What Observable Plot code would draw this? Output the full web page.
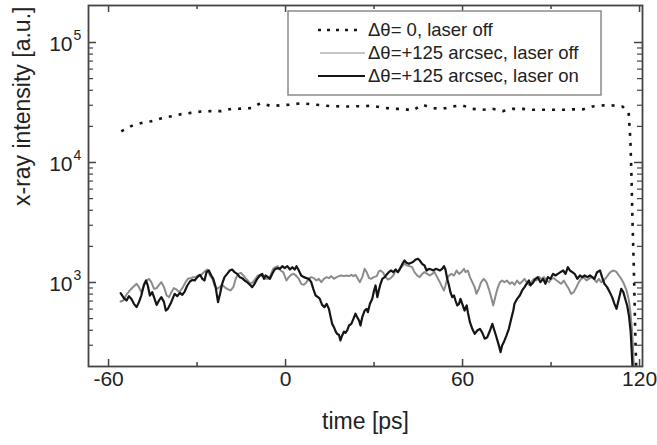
<!DOCTYPE html>
<html><head><meta charset="utf-8">
<script src="https://cdn.jsdelivr.net/npm/d3@7"></script>
<script src="https://cdn.jsdelivr.net/npm/@observablehq/plot@0.6"></script>
<style>body{margin:0;background:#fff} #chart{position:relative;width:657px;height:445px}</style>
</head><body><div id="chart"></div>
<script>
// time [ps], x-ray intensity [a.u.]
const dotted = [[-55.7,18200],[-52.3,20100],[-48.9,21300],[-45.5,22100],[-42.0,23400],[-38.6,24300],[-35.3,25300],[-32.2,25900],[-28.6,26600],[-25.4,26800],[-21.8,26800],[-18.3,28000],[-15.0,28100],[-11.6,28400],[-8.5,31200],[-4.8,29500],[-1.5,30000],[1.9,30400],[5.3,31200],[8.7,30600],[12.1,30000],[15.5,29500],[18.9,29300],[22.3,29300],[25.7,29500],[29.1,29700],[32.2,28900],[36.3,28000],[39.7,28000],[43.1,27100],[46.4,30300],[49.8,28400],[53.2,28000],[56.6,29300],[60.0,29900],[63.4,28000],[66.8,27500],[70.2,28000],[73.6,26800],[76.9,28000],[80.3,28000],[83.7,27500],[87.1,27500],[90.5,27500],[93.9,27500],[97.3,27700],[100.7,27700],[104.1,29300],[107.5,29900],[110.8,29900],[114.2,29300],[116.3,26100],[116.9,15300],[117.3,7100],[117.6,3300],[118.0,1500],[118.3,710],[118.6,330],[119.0,150]];

const grayOff = [[-55.9,694],[-55.0,708],[-54.1,779],[-53.1,841],[-52.3,886],[-51.4,930],[-50.5,975],[-49.7,915],[-48.9,831],[-48.0,944],[-47.1,1039],[-46.3,1073],[-45.5,1006],[-44.6,886],[-43.7,897],[-42.9,956],[-42.1,1006],[-41.2,915],[-40.3,779],[-39.5,755],[-38.7,831],[-37.9,897],[-37.0,875],[-36.0,831],[-35.0,897],[-33.9,1006],[-33.1,1073],[-32.2,1087],[-31.3,1108],[-30.5,1108],[-29.7,1144],[-28.8,1144],[-27.7,1219],[-26.6,1283],[-25.6,1144],[-24.8,1073],[-24.1,944],[-23.2,886],[-22.3,915],[-21.5,956],[-20.7,915],[-19.8,886],[-18.6,858],[-17.7,915],[-16.9,1073],[-16.1,1181],[-15.2,1204],[-14.3,1144],[-13.6,1087],[-12.8,1039],[-11.9,975],[-11.0,1006],[-10.2,1073],[-9.4,1144],[-8.5,1159],[-7.6,1108],[-6.8,1073],[-6.0,1073],[-5.1,1144],[-4.2,1300],[-3.4,1342],[-2.6,1368],[-1.7,1259],[-0.8,1219],
[0.3,1039],[1.1,1108],[1.9,1159],[2.8,1181],[3.7,1130],[4.5,1073],[5.3,975],[6.2,956],[7.1,1006],[7.9,1073],[8.7,1108],[9.6,1087],[10.5,1039],[11.3,1073],[12.1,1006],[13.0,1073],[13.9,1108],[14.7,1087],[15.5,1130],[16.4,1073],[17.3,1108],[18.1,1130],[18.9,1144],[19.8,1130],[20.7,1144],[21.5,1130],[22.3,1159],[23.0,1130],[23.7,1159],[24.5,1073],[25.2,1006],[26.0,1108],[26.8,1300],[27.5,1219],[28.3,1087],[29.0,1073],[29.9,1108],[30.9,1130],[31.6,1235],[32.2,1259],[33.1,1204],[33.9,1108],[34.7,1059],[35.6,1087],[36.5,1144],[37.3,1259],[38.1,1235],[38.8,1317],[39.6,1368],[40.3,1430],[41.2,1386],[42.1,1368],[42.9,1342],[43.7,1219],[44.6,1144],[45.5,1108],[46.3,1181],[47.1,1219],[48.0,1181],[48.9,1144],[49.7,1181],[50.5,1219],[51.4,1108],[52.3,1006],[53.1,915],[53.7,858],[54.2,944],[54.8,1073],[55.4,1144],[56.2,1181],[57.1,1144],[58.0,1259],[58.8,1181],[59.6,1219],[60.5,1300],
[61.0,1219],[61.8,1259],[62.5,1108],[63.3,1006],[64.1,915],[64.7,805],[65.5,886],[66.3,1006],[67.2,1073],[68.1,1006],[68.9,886],[69.7,755],[70.4,643],[71.2,779],[72.0,915],[72.7,1006],[73.4,1039],[74.2,1006],[75.1,1039],[76.0,975],[76.8,1006],[77.6,956],[78.5,1039],[79.4,975],[80.2,1019],[81.0,1073],[81.7,1006],[82.5,956],[83.3,1006],[84.2,1073],[85.1,1039],[85.9,1108],[86.7,1073],[87.6,1108],[88.5,1039],[89.3,1006],[90.1,1073],[91.0,1087],[91.9,1039],[92.7,1006],[93.4,975],[94.3,1039],[95.3,944],[96.0,886],[96.8,805],[97.7,831],[98.6,915],[99.4,1006],[100.2,1073],[101.1,1108],[102.0,1039],[102.8,1073],[103.6,1108],[104.5,1073],[105.4,1006],[106.2,1073],[107.0,1006],[107.9,1039],[108.8,1108],[109.6,1181],[110.4,1235],[111.3,1259],[112.2,1219],[113.0,1144],[113.8,1073],[114.7,975],[115.6,858],[116.4,708],[116.9,566],[117.5,385],[117.9,250],[118.3,150]];

const blackOn = [[-55.9,814],[-54.8,740],[-53.9,708],[-53.1,769],[-52.3,731],[-51.4,664],[-50.5,623],[-49.7,686],[-48.9,779],[-48.0,956],[-47.3,1039],[-46.7,944],[-46.0,779],[-45.2,831],[-44.6,755],[-43.7,651],[-42.9,708],[-42.1,755],[-41.2,686],[-40.6,584],[-39.9,603],[-39.0,664],[-38.3,731],[-37.6,805],[-36.7,769],[-35.8,820],[-35.0,789],[-34.2,841],[-33.3,944],[-32.4,1019],[-31.6,1052],[-30.8,1039],[-29.9,1108],[-29.0,1159],[-28.2,1073],[-27.5,1039],[-26.8,1219],[-26.0,1259],[-25.2,1144],[-24.5,1073],[-23.7,915],[-22.9,686],[-22.2,805],[-21.5,975],[-20.7,1108],[-19.8,1181],[-18.9,1259],[-18.1,1283],[-17.3,1219],[-16.4,1181],[-15.5,1108],[-14.7,1087],[-13.9,1039],[-13.0,1006],[-12.1,956],[-11.3,915],[-10.5,975],[-9.6,1073],[-8.7,1144],[-7.9,1181],[-7.3,1073],[-6.8,1144],[-6.0,1108],[-5.3,1073],[-4.5,1181],[-3.7,1283],[-2.8,1317],[-1.9,1300],[-1.1,1368],[-0.3,1317],[0.6,1368],
[1.5,1283],[2.3,1342],[3.1,1283],[3.7,1368],[4.5,1259],[5.3,1144],[6.2,1108],[7.1,1087],[7.9,1073],[8.7,1006],[9.4,886],[10.2,779],[11.0,755],[11.6,731],[12.4,651],[13.2,623],[13.9,664],[14.7,603],[15.3,514],[15.8,452],[16.4,424],[17.0,390],[17.5,373],[18.1,367],[18.6,329],[19.2,362],[19.8,390],[20.3,380],[20.9,399],[21.5,438],[22.3,452],[23.0,498],[23.7,549],[24.3,514],[24.9,483],[25.4,438],[26.0,514],[26.8,584],[27.5,603],[27.9,566],[28.6,664],[29.4,731],[30.0,858],[30.5,944],[31.1,755],[31.6,858],[32.2,975],[32.8,1073],[33.6,1108],[34.2,1159],[35.0,1219],[35.8,1259],[36.5,1219],[37.3,1283],[38.1,1219],[38.8,1300],[39.6,1430],[40.3,1525],[41.0,1458],[41.8,1430],[42.6,1458],[43.3,1490],[44.1,1555],[44.9,1575],[45.5,1525],[46.3,1430],[47.1,1386],[47.8,1259],[48.6,1300],[49.4,1283],[50.1,1259],[50.9,1300],[51.6,1283],[52.3,1259],[53.1,1300],[53.7,1368],[54.2,1283],[54.8,1073],[55.4,944],[55.9,831],[56.5,755],[57.1,779],[57.6,708],[58.2,643],[58.8,664],[59.3,731],[59.9,664],
[60.7,584],[61.4,643],[61.8,566],[62.5,467],[63.3,411],[64.1,373],[65.0,398],[65.9,411],[66.7,381],[67.5,340],[68.4,350],[69.3,398],[70.1,452],[70.8,398],[71.5,350],[72.3,299],[72.9,263],[73.4,299],[74.0,319],[74.9,362],[75.7,411],[76.5,498],[77.2,584],[77.6,664],[78.5,731],[79.4,779],[80.2,858],[81.0,915],[81.7,975],[82.5,1039],[83.0,944],[84.0,1006],[84.7,1073],[85.5,1108],[86.4,1006],[87.3,1073],[88.1,975],[88.9,1108],[89.8,1073],[90.7,1181],[91.5,1144],[92.3,1181],[93.2,1219],[94.1,1259],[94.9,1181],[95.7,1342],[96.4,1259],[97.2,1219],[98.0,1181],[98.9,1073],[99.8,1144],[100.6,1108],[101.4,1144],[102.3,1108],[103.2,1144],[104.0,1108],[104.7,1073],[105.6,1219],[106.6,1259],[107.3,1108],[108.1,975],[109.0,915],[109.9,831],[110.7,755],[111.5,664],[112.2,603],[113.0,731],[113.8,886],[114.5,831],[115.3,708],[115.8,643],[116.4,531],[117.0,385],[117.3,280],[117.6,200],[117.8,120]];

const xMajor = [-60, 0, 60, 120];
const xLabels = ["-60", "0", "60", "120"];
const xMinor = [-30, 30, 90];
const yMajor = [1e3, 1e4, 1e5];
const yExp = ["3", "4", "5"];
const yMinor = [300,400,500,600,700,800,900,2000,3000,4000,5000,6000,7000,8000,9000,20000,30000,40000,50000,60000,70000,80000,90000];
const legendLabels = ["\u0394\u03b8= 0, laser off", "\u0394\u03b8=+125 arcsec, laser off", "\u0394\u03b8=+125 arcsec, laser on"];

const W = 657, H = 445, mL = 88, mR = 15, mT = 5, mB = 79;
const plotW = W - mL - mR, plotH = H - mT - mB;
const font = "'Liberation Sans', Arial, Helvetica, sans-serif";
const axisColor = "#444";

const chart = Plot.plot({
  width: W, height: H,
  marginLeft: mL, marginRight: mR, marginTop: mT, marginBottom: mB,
  style: {fontFamily: font, background: "white", color: "#222", overflow: "visible"},
  x: {domain: [-66.8, 121], axis: null},
  y: {type: "log", domain: [199.5, 203400], axis: null},
  marks: [
    Plot.line(dotted, {x: d => d[0], y: d => d[1], stroke: "#151515", strokeWidth: 2.6, strokeDasharray: "3,7", strokeLinecap: "butt", clip: true}),
    Plot.line(grayOff, {x: d => d[0], y: d => d[1], stroke: "#8c8c8c", strokeWidth: 2, clip: true}),
    Plot.line(blackOn, {x: d => d[0], y: d => d[1], stroke: "#151515", strokeWidth: 2.2, clip: true}),
    Plot.tickX(xMajor, {x: d => d, insetTop: plotH - 7, stroke: axisColor, strokeWidth: 1.5}),
    Plot.tickX(xMajor, {x: d => d, insetBottom: plotH - 7, stroke: axisColor, strokeWidth: 1.5}),
    Plot.tickX(xMinor, {x: d => d, insetTop: plotH - 4, stroke: axisColor, strokeWidth: 1.5}),
    Plot.tickX(xMinor, {x: d => d, insetBottom: plotH - 4, stroke: axisColor, strokeWidth: 1.5}),
    Plot.tickY(yMajor, {y: d => d, insetRight: plotW - 8, stroke: axisColor, strokeWidth: 1.5}),
    Plot.tickY(yMajor, {y: d => d, insetLeft: plotW - 8, stroke: axisColor, strokeWidth: 1.5}),
    Plot.tickY(yMinor, {y: d => d, insetRight: plotW - 5, stroke: axisColor, strokeWidth: 1.2}),
    Plot.tickY(yMinor, {y: d => d, insetLeft: plotW - 5, stroke: axisColor, strokeWidth: 1.2}),
    Plot.frame({stroke: axisColor, strokeWidth: 1.8}),
    Plot.text(xMajor, {x: d => d, text: (d, i) => xLabels[i], frameAnchor: "bottom", dy: 19, fontSize: 21, fill: "#222"}),
    Plot.text(yMajor, {y: d => d, text: () => "10", frameAnchor: "left", textAnchor: "end", dx: -16, dy: 2, fontSize: 21, fill: "#222"}),
    Plot.text(yMajor, {y: d => d, text: (d, i) => yExp[i], frameAnchor: "left", textAnchor: "start", dx: -15, dy: -7, fontSize: 14, fill: "#222"}),
    Plot.text(["time [ps]"], {text: d => d, frameAnchor: "bottom", dy: 62, fontSize: 23, fill: "#222"}),
    Plot.text(["x-ray intensity [a.u.]"], {text: d => d, frameAnchor: "left", rotate: -90, dx: -66, dy: 20, fontSize: 23, fill: "#222"})
  ]
});
document.getElementById("chart").appendChild(chart);

// legend box inside the plot area
const svg = d3.select(chart);
const lg = svg.append("g").attr("font-family", font).attr("font-size", 18.5).attr("fill", "#222").attr("text-anchor", "start");
lg.append("rect").attr("x", 288).attr("y", 11).attr("width", 313).attr("height", 84)
  .attr("fill", "white").attr("stroke", "#8a8a8a").attr("stroke-width", 1.5);
const sampleStyles = [
  {stroke: "#151515", width: 2.6, dash: "3,6", x1: 318, x2: 358},
  {stroke: "#8c8c8c", width: 1.2, dash: null, x1: 320, x2: 365},
  {stroke: "#151515", width: 2.2, dash: null, x1: 318, x2: 365}
];
legendLabels.forEach((label, i) => {
  const cy = 30 + i * 23;
  const s = sampleStyles[i];
  const ln = lg.append("line").attr("x1", s.x1).attr("x2", s.x2).attr("y1", cy).attr("y2", cy)
    .attr("stroke", s.stroke).attr("stroke-width", s.width).attr("stroke-linecap", "butt");
  if (s.dash) ln.attr("stroke-dasharray", s.dash);
  lg.append("text").attr("x", 368).attr("y", cy).attr("dy", "0.35em").attr("text-anchor", "start").text(label);
});
</script>
</body></html>
